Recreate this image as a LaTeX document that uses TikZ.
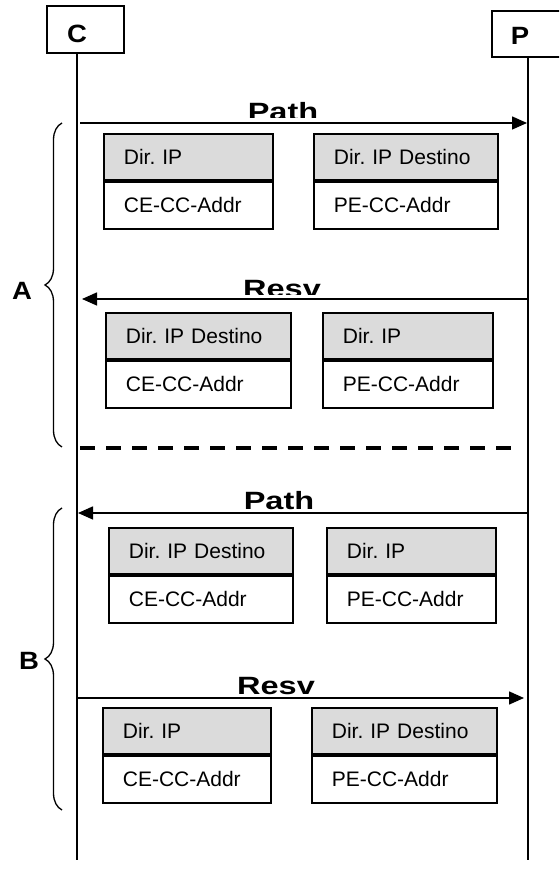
\documentclass[tikz,border=0pt]{standalone}
\usepackage{fontspec}
\setmainfont{Liberation Sans}
\usetikzlibrary{arrows.meta,decorations.pathreplacing}
\definecolor{hdrgray}{gray}{0.86}

% two stacked fields: #1 name, #2 x, #3 top y, #4 width, #5 header text, #6 body text
\newcommand\fieldpair[6]{%
  \pgfmathsetmacro\fpw{#4-40}%
  \node[hdr, text width=\fpw pt, anchor=north west] (#1h) at (#2,#3) {#5};
  \node[body, text width=\fpw pt, anchor=north] (#1b) at (#1h.south) {#6};}

\begin{document}
\frenchspacing
\begin{tikzpicture}[x=1pt,y=1pt,
  headbox/.style={draw, line width=1.8pt, anchor=south west, inner sep=0pt},
  lifeline/.style={line width=2pt},
  msg/.style={line width=1.5pt, -{Triangle[length=15pt,width=13pt]}},
  partbox/.style={draw, line width=1.8pt, minimum height=46.5pt, inner xsep=20pt,
    inner ysep=0pt, text height=15pt, text depth=0pt, align=left,
    font=\fontsize{21}{25}\selectfont},
  hdr/.style={partbox, fill=hdrgray},
  body/.style={partbox, fill=white},
  tag/.style={font=\fontsize{25}{30}\selectfont\bfseries, inner sep=0pt},
  msglabel/.style={font=\fontsize{25}{30}\selectfont\bfseries, anchor=base, inner sep=0pt},
  bracket/.style={line width=1.3pt, decorate, decoration={brace, amplitude=17pt}},
  divider/.style={line width=3.5pt, dash pattern=on 15pt off 11pt}]
\useasboundingbox (0,0) rectangle (559,869);
\clip (0,0) rectangle (559,869);

% participants
\node[headbox, minimum width=77pt, minimum height=47pt] (cbox) at (46,815) {};
\node[tag] (clabel) at (77,835) {\scalebox{1.1}[1]{C}};
\node[headbox, minimum width=77pt, minimum height=46pt] (pbox) at (491,811) {};
\node[tag] (plabel) at (520,833) {\scalebox{1.1}[1]{P}};

\coordinate (ctop) at (77,815);
\coordinate (cend) at (77,9);
\coordinate (ptop) at (528,811);
\coordinate (pend) at (528,9);
\draw[lifeline] (ctop) -- (cend);
\draw[lifeline] (ptop) -- (pend);

% message end points
\coordinate (m1s) at (80,746);  \coordinate (m1e) at (527,746);
\coordinate (m2s) at (527,570); \coordinate (m2e) at (82,570);
\coordinate (m3s) at (527,356); \coordinate (m3e) at (78,356);
\coordinate (m4s) at (77,171);  \coordinate (m4e) at (524,171);

\draw[msg] (m1s) -- (m1e);
\draw[msg] (m2s) -- (m2e);
\draw[msg] (m3s) -- (m3e);
\draw[msg] (m4s) -- (m4e);

% message names
\begin{scope}
  \clip (180,751) rectangle (380,800);
  \node[msglabel] (l1) at (283,748) {\scalebox{1.3}[1]{Path}};
\end{scope}
\begin{scope}
  \clip (180,574) rectangle (380,620);
  \node[msglabel] (l2) at (282,571) {\scalebox{1.3}[1]{Resv}};
\end{scope}
\node[msglabel] (l3) at (279,359) {\scalebox{1.3}[1]{Path}};
\node[msglabel] (l4) at (276,174) {\scalebox{1.3}[1]{Resv}};

% carried fields
\fieldpair{r1a}{103}{736}{169}{Dir. IP}{CE-CC-Addr}
\fieldpair{r1b}{313}{736}{184}{Dir. IP Destino}{PE-CC-Addr}
\fieldpair{r2a}{105}{557}{185}{Dir. IP Destino}{CE-CC-Addr}
\fieldpair{r2b}{322}{557}{170}{Dir. IP}{PE-CC-Addr}
\fieldpair{r3a}{108}{342}{184}{Dir. IP Destino}{CE-CC-Addr}
\fieldpair{r3b}{326}{342}{169}{Dir. IP}{PE-CC-Addr}
\fieldpair{r4a}{102}{162}{168}{Dir. IP}{CE-CC-Addr}
\fieldpair{r4b}{311}{162}{185}{Dir. IP Destino}{PE-CC-Addr}

% separator between the two cases
\coordinate (ds) at (80,421);
\coordinate (de) at (517,421);
\draw[divider] (ds) -- (de);

% case braces
\coordinate (abot) at (62,422); \coordinate (atop) at (62,746);
\coordinate (bbot) at (62,59);  \coordinate (btop) at (62,361);
\draw[bracket] (abot) -- (atop);
\draw[bracket] (bbot) -- (btop);
\node[tag] (alabel) at (22,578) {\scalebox{1.1}[1]{A}};
\node[tag] (blabel) at (29,208) {\scalebox{1.1}[1]{B}};
\end{tikzpicture}
\end{document}
